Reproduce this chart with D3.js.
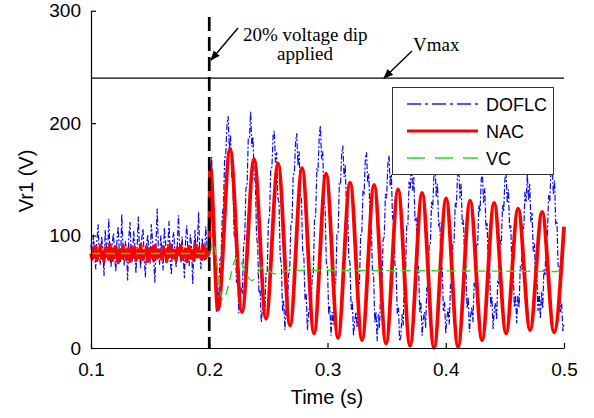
<!DOCTYPE html>
<html>
<head>
<meta charset="utf-8">
<script src="https://cdn.jsdelivr.net/npm/d3@7"></script>
<style>
  body { margin: 0; background: #fff; }
  svg { display: block; }
  .tick text { font-family: "Liberation Sans", Arial, sans-serif; font-size: 19px; fill: #000; }
</style>
</head>
<body>
<svg id="chart" width="594" height="418"></svg>
<script>
// ---- data ----
var xTicks = [0.1, 0.2, 0.3, 0.4, 0.5];
var yTicks = [0, 100, 200, 300];
var dipTime = 0.2;
var vmax = 240;
var sampleStep = 0.001;   // DOFLC / NAC pre-dip samples start at 0.1 s

// DOFLC, 0.100 .. 0.199 s
var doflcPre = [
  92, 78, 101, 85, 70, 96, 110, 83, 74, 99,
  88, 64, 105, 91, 79, 115, 86, 72, 94, 102,
  81, 68, 97, 108, 84, 76, 119, 90, 73, 95,
  87, 60, 99, 112, 82, 77, 104, 93, 66, 89,
  117, 85, 71, 98, 106, 80, 63, 92, 101, 86,
  75, 110, 96, 79, 58, 94, 124, 88, 74, 100,
  83, 69, 107, 95, 81, 90, 113, 78, 65, 97,
  103, 84, 72, 92, 118, 87, 76, 99, 82, 62,
  96, 109, 85, 73, 101, 91, 57, 88, 105, 80,
  94, 121, 83, 70, 98, 86, 77, 108, 92, 81
];
// DOFLC, 0.200 .. 0.500 s
var doflcPost = [
  85, 146, 170, 141, 112, 63, 32, 53, 47, 79,
  80, 119, 125, 168, 173, 198, 206, 177, 189, 152,
  147, 101, 97, 58, 63, 31, 46, 54, 48, 91,
  98, 142, 144, 186, 186, 210, 179, 188, 151, 148,
  100, 90, 49, 52, 23, 35, 44, 33, 67, 67,
  111, 118, 159, 161, 189, 193, 165, 174, 134, 129,
  81, 75, 33, 42, 16, 38, 28, 66, 67, 109,
  113, 154, 156, 183, 191, 162, 175, 135, 133, 86,
  82, 43, 48, 16, 31, 38, 26, 62, 66, 113,
  118, 159, 158, 188, 198, 168, 175, 130, 125, 76,
  71, 30, 37, 11, 32, 21, 59, 58, 101, 103,
  146, 145, 173, 180, 152, 163, 125, 126, 80, 76,
  34, 41, 11, 24, 32, 18, 56, 56, 100, 101,
  140, 138, 169, 174, 147, 155, 114, 112, 67, 65,
  23, 32, 6, 30, 18, 55, 53, 96, 99, 137,
  133, 163, 171, 144, 155, 115, 116, 74, 72, 30,
  36, 6, 10, 30, 20, 62, 64, 110, 110, 148,
  141, 168, 140, 152, 113, 116, 74, 72, 32, 41,
  11, 26, 32, 18, 54, 51, 93, 93, 130, 124,
  154, 160, 134, 146, 108, 112, 72, 73, 33, 41,
  13, 27, 35, 21, 57, 53, 93, 93, 129, 125,
  155, 160, 133, 146, 109, 114, 73, 73, 35, 45,
  14, 29, 36, 23, 58, 53, 93, 92, 127, 121,
  150, 155, 129, 142, 106, 111, 73, 76, 37, 46,
  17, 33, 40, 25, 60, 56, 96, 92, 127, 121,
  150, 157, 129, 141, 106, 109, 67, 71, 36, 47,
  22, 47, 36, 73, 70, 109, 106, 139, 130, 155,
  131, 146, 112, 120, 86, 93, 57, 65, 33, 49,
  26, 50, 35, 70, 65, 103, 101, 136, 130, 159,
  164, 137, 149, 111, 113, 73, 72, 32, 40, 15,
  22
];

// NAC before the dip, 0.100 .. 0.199 s
var nacPre = [
  84, 79, 88, 81, 90, 78, 86, 83, 91, 80,
  85, 77, 89, 82, 87, 79, 92, 84, 78, 88,
  81, 90, 83, 76, 87, 85, 80, 91, 82, 86,
  79, 88, 84, 77, 90, 83, 81, 89, 78, 85,
  87, 80, 92, 82, 79, 86, 84, 90, 77, 88,
  83, 81, 89, 78, 91, 85, 80, 87, 82, 84,
  79, 90, 83, 86, 77, 88, 81, 92, 84, 80,
  87, 82, 78, 89, 85, 83, 91, 79, 86, 81,
  88, 77, 84, 90, 80, 87, 83, 78, 92, 85,
  81, 89, 82, 86, 79, 91, 84, 80, 88, 83
];
// NAC after the dip: peaks and troughs
var nacTimes = [0.2000, 0.2008, 0.2074, 0.2176, 0.2277, 0.2379, 0.2480, 0.2582, 0.2683, 0.2785,
  0.2886, 0.2988, 0.3089, 0.3191, 0.3292, 0.3394, 0.3495, 0.3597, 0.3698, 0.3800,
  0.3901, 0.4003, 0.4104, 0.4206, 0.4307, 0.4409, 0.4510, 0.4612, 0.4713, 0.4815,
  0.4916, 0.5000];
var nacValues = [84, 162, 34, 177, 32, 168, 26, 164, 20, 160,
  13, 155, 9, 147, 7, 145, 4, 141, 2, 138,
  0, 133, 1, 131, 7, 129, 13, 124, 16, 121,
  14, 108];

// VC
var vcTimes = [0.1, 0.15, 0.2, 0.2031, 0.2115, 0.2234, 0.2361, 0.2454, 0.2555, 0.268, 0.5];
var vcValues = [84, 84, 84, 94, 43, 80, 60, 72, 66, 69, 68];

var legendLabels = ["DOFLC", "NAC", "VC"];

// ---- layout ----
var svg = d3.select("#chart");
var sans = '"Liberation Sans", Arial, sans-serif';
var serif = '"Liberation Serif", "Times New Roman", serif';

var x = d3.scaleLinear().domain([0.1, 0.5]).range([91, 564]);
var y = d3.scaleLinear().domain([0, 300]).range([348, 10.7]);

// series as point lists
var doflc = doflcPre.concat(doflcPost).map(function (v, i) { return [0.1 + i * sampleStep, v]; });
var nacA = nacPre.map(function (v, i) { return [0.1 + i * sampleStep, v]; });
var nacB = nacTimes.map(function (t, i) { return [t, nacValues[i]]; });
var vc = vcTimes.map(function (t, i) { return [t, vcValues[i]]; });

var lineLin = d3.line().x(function (d) { return x(d[0]); }).y(function (d) { return y(d[1]); });
var lineSmooth = d3.line().curve(d3.curveMonotoneX)
  .x(function (d) { return x(d[0]); }).y(function (d) { return y(d[1]); });

// DOFLC
svg.append("path")
  .attr("d", lineLin(doflc))
  .attr("fill", "none")
  .attr("stroke", "#0a0aee")
  .attr("stroke-width", 1.2)
  .attr("stroke-dasharray", "6,2,2,2");

// NAC
svg.append("path")
  .attr("d", lineLin(nacA.concat([[dipTime, 84]])))
  .attr("fill", "none")
  .attr("stroke", "#ff0000")
  .attr("stroke-width", 3.4)
  .attr("stroke-linejoin", "round");
svg.append("path")
  .attr("d", lineSmooth(nacB))
  .attr("fill", "none")
  .attr("stroke", "#ff0000")
  .attr("stroke-width", 3.8)
  .attr("stroke-linejoin", "round");

// VC
svg.append("path")
  .attr("d", lineSmooth(vc))
  .attr("fill", "none")
  .attr("stroke", "#22dd22")
  .attr("stroke-width", 1.4)
  .attr("stroke-dasharray", "9,6");

// Vmax line
svg.append("line")
  .attr("x1", x(0.1)).attr("x2", x(0.5))
  .attr("y1", y(vmax)).attr("y2", y(vmax))
  .attr("stroke", "#000").attr("stroke-width", 1.2);

// dip marker
svg.append("line")
  .attr("x1", x(dipTime)).attr("x2", x(dipTime))
  .attr("y1", 17).attr("y2", y(0))
  .attr("stroke", "#000").attr("stroke-width", 2.7)
  .attr("stroke-dasharray", "14,6");

// axes
var yAxis = d3.axisLeft(y).tickValues(yTicks).tickFormat(d3.format("d"))
  .tickSizeInner(-5).tickSizeOuter(0).tickPadding(10);
var xAxis = d3.axisBottom(x).tickValues(xTicks).tickFormat(d3.format(".1f"))
  .tickSizeInner(-5).tickSizeOuter(0).tickPadding(15);

svg.append("g").attr("transform", "translate(" + x(0.1) + ",0)").call(yAxis)
  .call(function (g) { g.selectAll("path, line").attr("stroke", "#000").attr("stroke-width", 1.2); });
svg.append("g").attr("transform", "translate(0," + y(0) + ")").call(xAxis)
  .call(function (g) { g.selectAll("path, line").attr("stroke", "#000").attr("stroke-width", 1.2); });

svg.append("text")
  .attr("x", 327).attr("y", 404)
  .attr("text-anchor", "middle")
  .style("font-family", sans).style("font-size", "20px")
  .text("Time (s)");

svg.append("text")
  .attr("transform", "translate(33," + 181 + ") rotate(-90)")
  .attr("text-anchor", "middle")
  .style("font-family", sans).style("font-size", "20px")
  .text("Vr1 (V)");

// annotations
svg.append("defs").append("marker")
  .attr("id", "arrow")
  .attr("viewBox", "0 0 10 10")
  .attr("refX", 9).attr("refY", 5)
  .attr("markerWidth", 10).attr("markerHeight", 10)
  .attr("markerUnits", "userSpaceOnUse")
  .attr("orient", "auto")
  .append("path").attr("d", "M0,1 L10,5 L0,9 Z").attr("fill", "#000");

svg.append("line")
  .attr("x1", 238).attr("y1", 28).attr("x2", 211).attr("y2", 60)
  .attr("stroke", "#000").attr("stroke-width", 1.4)
  .attr("marker-end", "url(#arrow)");
svg.append("line")
  .attr("x1", 412).attr("y1", 51).attr("x2", 384).attr("y2", 78)
  .attr("stroke", "#000").attr("stroke-width", 1.4)
  .attr("marker-end", "url(#arrow)");

svg.append("text").attr("x", 243).attr("y", 41)
  .style("font-family", serif).style("font-size", "19px")
  .text("20% voltage dip");
svg.append("text").attr("x", 305).attr("y", 60).attr("text-anchor", "middle")
  .style("font-family", serif).style("font-size", "19px")
  .text("applied");
svg.append("text").attr("x", 413).attr("y", 51)
  .style("font-family", serif).style("font-size", "19px")
  .text("Vmax");

// legend
var legend = svg.append("g");
legend.append("rect")
  .attr("x", 392.5).attr("y", 87.5).attr("width", 161).attr("height", 87)
  .attr("fill", "#fff").attr("stroke", "#333").attr("stroke-width", 1);

var legendStyles = [
  { color: "#1a1aff", width: 1.3, dash: "14,4,3,4" },
  { color: "#ff0000", width: 3, dash: null },
  { color: "#22dd22", width: 1.4, dash: "18,10" }
];

legendLabels.forEach(function (label, i) {
  var ly = 104 + i * 27;
  legend.append("line")
    .attr("x1", 407).attr("x2", 478).attr("y1", ly).attr("y2", ly)
    .attr("stroke", legendStyles[i].color)
    .attr("stroke-width", legendStyles[i].width)
    .attr("stroke-dasharray", legendStyles[i].dash);
  legend.append("text")
    .attr("x", 486).attr("y", ly + 6.5)
    .style("font-family", sans).style("font-size", "18px")
    .text(label);
});
</script>
</body>
</html>
